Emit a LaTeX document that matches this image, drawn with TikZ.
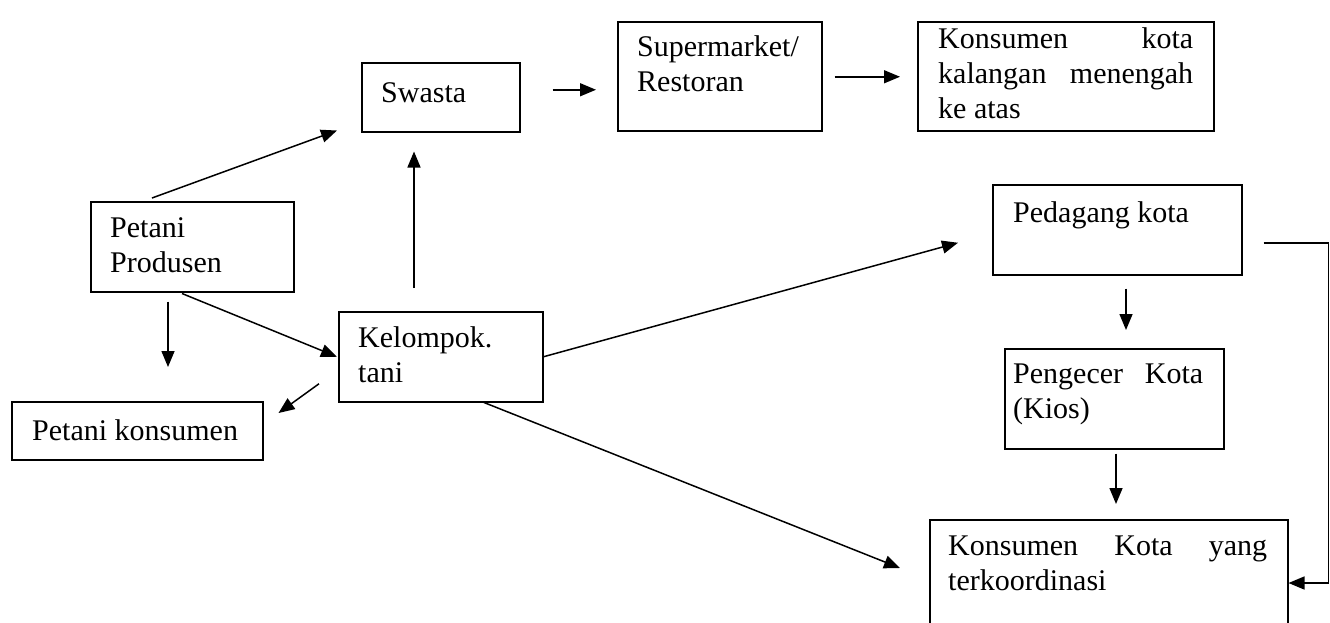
\documentclass[tikz,border=0pt]{standalone}
\usepackage{fontspec}
\setmainfont{Liberation Serif}
\usetikzlibrary{arrows.meta,calc}
\begin{document}
\begin{tikzpicture}[x=1pt,y=-1pt,
  box/.style={draw, line width=1.5pt, inner sep=0pt, anchor=north west},
  txt/.style={inner sep=0pt, anchor=north west, align=left, font=\fontsize{30}{35}\selectfont},
  arr/.style={line width=1.5pt, -{Triangle[length=16pt,width=13pt]}}]
\useasboundingbox (0,0) rectangle (1330,622);
\clip (0,0) rectangle (1330,622);
% boxes
\node[box, minimum width=158pt, minimum height=69pt]  (sw)  at (361,62)  {};
\node[box, minimum width=204pt, minimum height=109pt] (sm)  at (617,21)  {};
\node[box, minimum width=296pt, minimum height=109pt] (kt)  at (917,21)  {};
\node[box, minimum width=203pt, minimum height=90pt]  (pp)  at (90,201)  {};
\node[box, minimum width=204pt, minimum height=90pt]  (kel) at (338,311) {};
\node[box, minimum width=251pt, minimum height=58pt]  (pk)  at (11,401)  {};
\node[box, minimum width=249pt, minimum height=90pt]  (pd)  at (992,184) {};
\node[box, minimum width=219pt, minimum height=100pt] (pe)  at (1004,348) {};
\node[box, minimum width=358pt, minimum height=140pt] (kk)  at (929,519) {};
% texts
\node[txt] (swt)  at (381,77.5)  {\strut Swasta};
\node[txt] (smt)  at (637,31.5)  {\strut Supermarket/\\Restoran};
\node[txt] (ktt)  at (938,24)    {\strut\hbox to 255pt{Konsumen\hfill kota}\\\hbox to 255pt{kalangan\hfill menengah}\\ke atas};
\node[txt] (ppt)  at (110,212.5) {\strut Petani\\Produsen};
\node[txt] (kelt) at (358,322.5) {\strut Kelompok.\\tani};
\node[txt] (pkt)  at (32,415.5)  {\strut Petani konsumen};
\node[txt] (pdt)  at (1013,197.5) {\strut Pedagang kota};
\node[txt] (pet)  at (1013,358.5) {\strut\hbox to 190pt{Pengecer\hfill Kota}\\(Kios)};
\node[txt] (kkt)  at (948,530.5) {\strut\hbox to 319pt{Konsumen\hfill Kota\hfill yang}\\terkoordinasi};
% connectors
\draw[arr] ($(pp.north west)+(62,-3)$) -- ($(sw.south west)+(-24,-2)$);
\draw[arr] ($(kel.north west)+(76,-23)$) -- ($(sw.south west)+(53,19)$);
\draw[arr] ($(sw.east)+(32,-7.5)$) -- ($(sm.west)+(-21,13.5)$);
\draw[arr] ($(sm.east)+(12,0.5)$) -- ($(kt.west)+(-17,0.5)$);
\draw[arr] ($(pp.south west)+(92,1)$) -- ($(kel.west)+(-1,0)$);
\draw[arr] ($(pp.south west)+(78,9)$) -- ($(pk.north west)+(157,-34)$);
\draw[arr] ($(kel.west)+(-19,27)$) -- ($(pk.north east)+(15,12)$);
\draw[arr] (kel.east) -- ($(pd.west)+(-34,13)$);
\draw[arr] ($(kel.south west)+(146,0)$) -- ($(kk.north west)+(-29,49)$);
\draw[arr] ($(pd.south west)+(134,13)$) -- ($(pe.north west)+(122,-18)$);
\draw[arr] ($(pe.south west)+(112,4)$) -- ($(kk.north west)+(187,-15)$);
\draw[arr] ($(pd.east)+(21,13)$) -- ++(65,0) |- ($(kk.north east)+(0,64)$);
\end{tikzpicture}
\end{document}
